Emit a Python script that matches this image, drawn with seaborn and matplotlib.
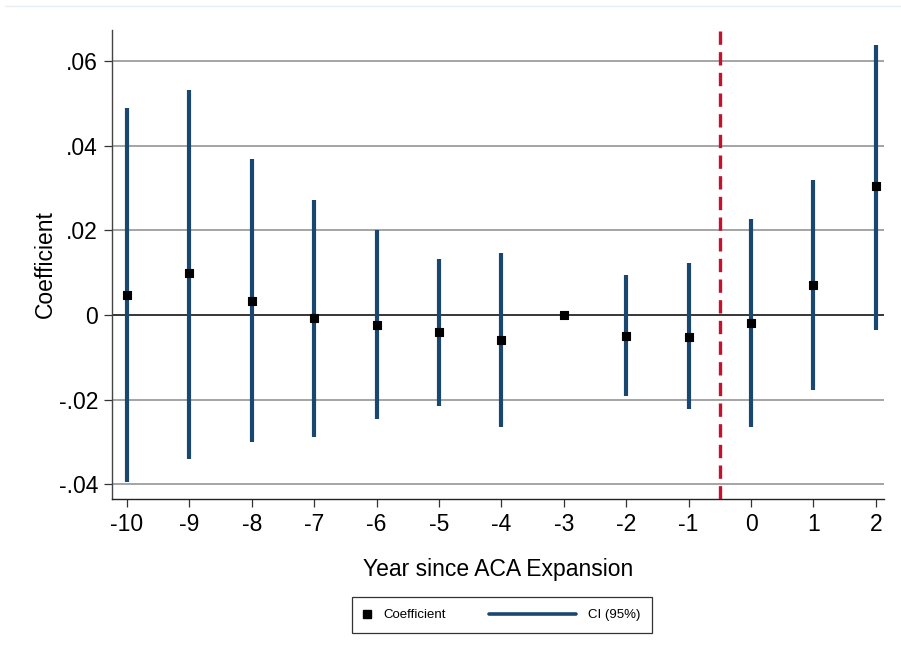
import numpy as np
import pandas as pd
import matplotlib
matplotlib.use("Agg")
import matplotlib.pyplot as plt
import seaborn as sns
from matplotlib.lines import Line2D
from matplotlib.legend_handler import HandlerLine2D

# ---- data ----
years = [-10, -9, -8, -7, -6, -5, -4, -3, -2, -1, 0, 1, 2]
coef = [0.0047, 0.0099, 0.0033, -0.0007, -0.0024, -0.0040, -0.0059, 0.0000,
        -0.0050, -0.0052, -0.0019, 0.0071, 0.0305]
ci_low = [-0.0395, -0.0340, -0.0300, -0.0288, -0.0246, -0.0215, -0.0265, np.nan,
          -0.0191, -0.0222, -0.0265, -0.0177, -0.0035]
ci_high = [0.0489, 0.0532, 0.0369, 0.0272, 0.0201, 0.0132, 0.0147, np.nan,
           0.0095, 0.0123, 0.0227, 0.0319, 0.0638]
ytick_vals = [-0.04, -0.02, 0.0, 0.02, 0.04, 0.06]
ytick_labels = ["-.04", "-.02", "0", ".02", ".04", ".06"]
event_line = -0.5

df = pd.DataFrame({"year": years, "coef": coef, "lo": ci_low, "hi": ci_high})

sns.set_theme(style="white")
plt.rcParams["font.family"] = ["Liberation Sans", "DejaVu Sans"]
plt.rcParams["text.color"] = "black"
plt.rcParams["axes.labelcolor"] = "black"
plt.rcParams["xtick.color"] = "black"
plt.rcParams["ytick.color"] = "black"

NAVY = "#1a476f"
RED = "#c8102e"

fig = plt.figure(figsize=(9.01, 6.62), dpi=100)
ax = fig.add_axes([112 / 901, 1 - 499 / 662, (884 - 112) / 901, (499 - 30) / 662])

# grid lines
for v in ytick_vals:
    if v == 0:
        ax.axhline(v, color="black", lw=1.1, zorder=1)
    else:
        ax.axhline(v, color="#8c8c8c", lw=1.1, zorder=1)

# CI lines
ci = df.dropna()
ax.vlines(ci["year"], ci["lo"], ci["hi"], color=NAVY, lw=3.0, zorder=2)

# coefficients
sns.scatterplot(data=df, x="year", y="coef", marker="s", color="black",
                s=28, edgecolor="black", linewidth=0.8, zorder=3, ax=ax, legend=False)

# event line
ax.axvline(event_line, color=RED, lw=2.4, linestyle=(0, (4, 2.2)), zorder=4)

ax.set_xlim(-10.24, 2.13)
ax.set_ylim(-0.0435, 0.0674)
ax.set_xticks(years)
ax.set_xticklabels([str(y) for y in years])
ax.set_yticks(ytick_vals)
ax.set_yticklabels(ytick_labels)
ax.tick_params(axis="both", which="major", labelsize=16.5, length=6, width=0.9,
               color="#333333", labelcolor="black", direction="out",
               bottom=True, left=True, pad=4)
for s in ["top", "right"]:
    ax.spines[s].set_visible(False)
ax.spines["left"].set_color("#444444")
ax.spines["left"].set_linewidth(1.0)
ax.spines["bottom"].set_color("#222222")
ax.spines["bottom"].set_linewidth(1.0)

ax.set_xlabel("Year since ACA Expansion", fontsize=16.5, labelpad=16, color="black")
ax.set_ylabel("Coefficient", fontsize=16.5, labelpad=1, color="black")


class LongLine(HandlerLine2D):
    def create_artists(self, legend, orig_handle, xdescent, ydescent, width,
                       height, fontsize, trans):
        ext = fontsize * 6.0
        y = height / 2 - ydescent
        ln = Line2D([-xdescent - ext, -xdescent + width], [y, y],
                    color=orig_handle.get_color(), lw=orig_handle.get_linewidth())
        ln.set_transform(trans)
        return [ln]


h_coef = Line2D([], [], marker="s", color="black", linestyle="none", markersize=5.5)
h_ci = Line2D([], [], color=NAVY, lw=2.6)
leg = fig.legend([h_coef, h_ci], ["Coefficient", "CI (95%)"], ncol=2,
                 loc="center", bbox_to_anchor=(502 / 901, 1 - 615 / 662),
                 fontsize=9.5, handlelength=0.6, handletextpad=0.9,
                 columnspacing=9.3, frameon=True, fancybox=False,
                 borderpad=0.9, borderaxespad=0, handler_map={h_ci: LongLine()})
leg.get_frame().set_edgecolor("black")
leg.get_frame().set_linewidth(0.9)

# faint top border line
fig.add_artist(Line2D([5 / 901, 1.0], [1 - 6 / 662, 1 - 6 / 662],
                      transform=fig.transFigure, color="#e8edf3", lw=1.0))

fig.savefig("out.png", dpi=100, facecolor="white")
